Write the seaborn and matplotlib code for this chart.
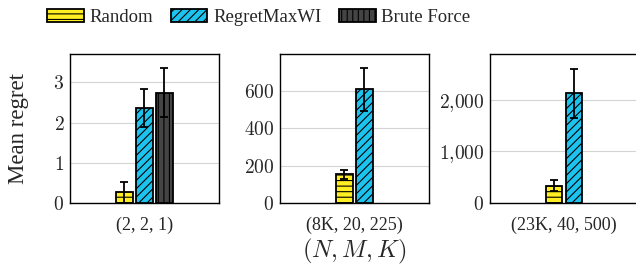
import pandas as pd
import matplotlib
matplotlib.use("Agg")
import matplotlib.pyplot as plt
import seaborn as sns
from matplotlib.patches import Patch
from matplotlib.ticker import FuncFormatter

# values
settings = ["(2, 2, 1)", "(8K, 20, 225)", "(23K, 40, 500)"]
methods = ["Random", "RegretMaxWI", "Brute Force"]
random_mean = [0.27, 154, 335]
random_err = [0.26, 25, 110]
regret_mean = [2.36, 608, 2120]
regret_err = [0.47, 115, 480]
brute_mean = [2.75, None, None]
brute_err = [0.62, None, None]
y_max = [3.71, 798, 2884]
y_ticks = [[0, 1, 2, 3], [0, 200, 400, 600], [0, 1000, 2000]]

colors = {"Random": "#FFEE22", "RegretMaxWI": "#1CC3EF", "Brute Force": "#444444"}
hatches = {"Random": "---", "RegretMaxWI": "////", "Brute Force": "|||"}

rows = []
for i, s in enumerate(settings):
    for m, means, errs in [("Random", random_mean, random_err),
                           ("RegretMaxWI", regret_mean, regret_err),
                           ("Brute Force", brute_mean, brute_err)]:
        if means[i] is not None:
            rows.append({"setting": s, "method": m, "mean": means[i], "err": errs[i]})
df = pd.DataFrame(rows)

sns.set_style("white")
plt.rcParams["font.family"] = ["Liberation Serif", "DejaVu Serif"]
plt.rcParams["mathtext.fontset"] = "cm"
plt.rcParams["hatch.linewidth"] = 0.8

fig = plt.figure(figsize=(6.36, 2.69), dpi=100)
lefts = [0.110, 0.440, 0.770]
axes = [fig.add_axes([l, 0.2454, 0.234, 0.554]) for l in lefts]

for i, ax in enumerate(axes):
    sub = df[df["setting"] == settings[i]]
    order = [m for m in methods if m in set(sub["method"])]
    sns.barplot(data=sub, x="setting", y="mean", hue="method", hue_order=order,
                palette=colors, saturation=1, width=0.2 * len(order), gap=0.165,
                errorbar=None, edgecolor="black", linewidth=1.3, legend=False, ax=ax)
    for m, cont in zip(order, ax.containers):
        val = sub[sub["method"] == m].iloc[0]
        for bar in cont:
            bar.set_hatch(hatches[m])
            bar.set_zorder(3)
            xc = bar.get_x() + bar.get_width() / 2
            ax.errorbar(xc, val["mean"], yerr=val["err"], color="black",
                        elinewidth=1.3, capsize=3.2, capthick=1.3, zorder=4)
    ax.set_xlim(-0.745, 0.745)
    ax.set_ylim(0, y_max[i])
    ax.set_yticks(y_ticks[i])
    ax.yaxis.set_major_formatter(FuncFormatter(lambda v, p: "$" + f"{int(v):,}".replace(",", "{,}") + "$"))
    ax.grid(axis="y", color="#d4d4d4", linewidth=0.8, zorder=0)
    ax.set_axisbelow(True)
    for sp in ax.spines.values():
        sp.set_color("black")
        sp.set_linewidth(1.0)
    ax.tick_params(axis="y", labelsize=14, length=0, pad=4)
    ax.tick_params(axis="x", labelsize=13, length=0, pad=10)
    ax.set_xlabel("")
    ax.set_ylabel("")

axes[0].set_ylabel("Mean regret", fontsize=16.5)
axes[0].yaxis.set_label_coords(-0.275, 0.5)
axes[1].set_xlabel("$(N, M, K)$", fontsize=17.5, labelpad=2)

handles = [Patch(facecolor=colors[m], edgecolor="black", hatch=hatches[m], linewidth=1.3)
           for m in methods]
fig.legend(handles, methods, loc="center", bbox_to_anchor=(0.407, 0.935), ncol=3,
           frameon=False, fontsize=13.5, handlelength=1.95, handleheight=0.63,
           handletextpad=0.3, columnspacing=0.95)

fig.savefig("out.png", dpi=100)
